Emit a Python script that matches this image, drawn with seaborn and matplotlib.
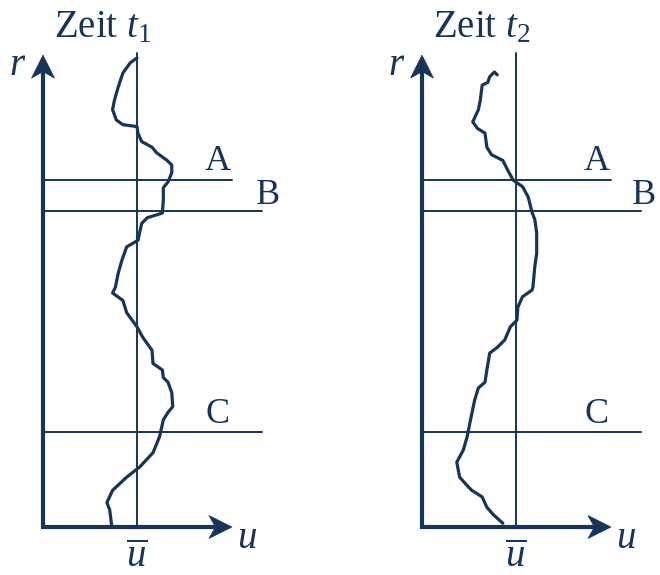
import matplotlib
matplotlib.use("Agg")
import matplotlib.pyplot as plt
import matplotlib.transforms as mtransforms
from matplotlib.patches import Polygon
import numpy as np
import pandas as pd
import seaborn as sns

# Instantaneous velocity profiles u(r) at two times, in units of the mean velocity
r_t1 = [4.99, 4.94, 4.83, 4.68, 4.54, 4.44, 4.33, 4.28, 4.26, 4.19, 4.10, 4.04, 3.98,
        3.90, 3.85, 3.77, 3.67, 3.61, 3.48, 3.34, 3.29, 3.23, 3.05, 2.98, 2.84, 2.70,
        2.55, 2.49, 2.41, 2.28, 2.13, 2.02, 1.88, 1.74, 1.67, 1.59, 1.54, 1.43, 1.28,
        1.22, 1.14, 0.96, 0.79, 0.64, 0.53, 0.39, 0.26, 0.18, 0.02]
u_t1 = [1.00, 0.93, 0.85, 0.80, 0.76, 0.74, 0.78, 0.85, 1.00, 1.01, 1.05, 1.16, 1.21,
        1.32, 1.37, 1.37, 1.33, 1.28, 1.28, 1.27, 1.11, 1.05, 1.01, 0.89, 0.84, 0.80,
        0.77, 0.74, 0.85, 0.89, 1.00, 1.06, 1.16, 1.17, 1.27, 1.28, 1.33, 1.37, 1.38,
        1.33, 1.28, 1.24, 1.17, 1.03, 0.89, 0.74, 0.68, 0.71, 0.73]

r_t2 = [4.81, 4.84, 4.79, 4.73, 4.70, 4.54, 4.44, 4.31, 4.24, 4.19, 4.04, 3.96, 3.90,
        3.80, 3.69, 3.62, 3.51, 3.35, 3.27, 3.13, 2.91, 2.77, 2.55, 2.52, 2.45, 2.34,
        2.20, 2.13, 1.99, 1.91, 1.85, 1.67, 1.54, 1.48, 1.35, 1.11, 0.96, 0.82, 0.69,
        0.53, 0.43, 0.39, 0.32, 0.21, 0.13, 0.04]
u_t2 = [0.80, 0.77, 0.72, 0.70, 0.64, 0.62, 0.60, 0.54, 0.59, 0.67, 0.69, 0.74, 0.86,
        0.91, 0.97, 1.07, 1.13, 1.17, 1.20, 1.22, 1.22, 1.20, 1.18, 1.17, 1.07, 1.02,
        1.01, 0.94, 0.88, 0.80, 0.72, 0.69, 0.67, 0.60, 0.56, 0.51, 0.48, 0.44, 0.37,
        0.40, 0.49, 0.53, 0.64, 0.69, 0.76, 0.86]

titles = ["Zeit $t_1$", "Zeit $t_2$"]
u_mean = 1.0
level_names = ["A", "B", "C"]
level_r = [3.69, 3.36, 1.01]
level_len = [2.01, 2.33, 2.33]
axis_u_max = 2.01
axis_r_max = 5.02

sns.set_theme(style="white")
plt.rcParams["font.family"] = ["Liberation Serif", "DejaVu Serif"]
plt.rcParams["mathtext.fontset"] = "custom"
plt.rcParams["mathtext.rm"] = "Liberation Serif"
plt.rcParams["mathtext.it"] = "Liberation Serif:italic"

navy = "#173459"
scale = 94.0  # pixels per unit

fig = plt.figure(figsize=(6.6, 5.75), dpi=100)
fig.patch.set_facecolor("white")

profiles = [(u_t1, r_t1), (u_t2, r_t2)]
origins_px = [43, 92]  # horizontal offset of r-axis inside each panel

# swept-back arrowhead outline (inches), pointing along +x
head = np.array([[0.0, 0.0], [-0.23, 0.115], [-0.165, 0.0], [-0.23, -0.115]])


def arrowhead(ax, x, y, angle):
    rot = mtransforms.Affine2D().rotate_deg(angle)
    trans = rot + fig.dpi_scale_trans + mtransforms.ScaledTranslation(x, y, ax.transData)
    ax.add_patch(Polygon(head, closed=True, transform=trans, facecolor=navy,
                         edgecolor=navy, lw=0.5, clip_on=False, zorder=5))


for i, ((u, r), title) in enumerate(zip(profiles, titles)):
    ax = fig.add_axes([0.5 * i, 0.0, 0.5, 1.0])
    x0 = origins_px[i]
    ax.set_xlim(-x0 / scale, (330 - x0) / scale)
    ax.set_ylim(-48 / scale, 527 / scale)
    ax.axis("off")

    df = pd.DataFrame({"u": u, "r": r})
    sns.lineplot(data=df, x="u", y="r", sort=False, estimator=None, ax=ax,
                 color=navy, lw=2.3, solid_joinstyle="round", solid_capstyle="round")

    # mean velocity line
    ax.plot([u_mean, u_mean], [0, 5.04], color=navy, lw=1.4, clip_on=False)

    # measurement levels A, B, C
    for name, rl, ln in zip(level_names, level_r, level_len):
        ax.plot([0, ln], [rl, rl], color=navy, lw=1.4, clip_on=False)

    # r and u axes meeting in a square corner
    ax.plot([0, 0, axis_u_max - 0.12], [axis_r_max - 0.12, 0, 0], color=navy, lw=3.0,
            solid_joinstyle="miter", solid_capstyle="butt", clip_on=False, zorder=4)
    arrowhead(ax, axis_u_max, 0, 0)
    arrowhead(ax, 0, axis_r_max, 90)

    fs = 28
    ax.text(0.12, 5.21, title, fontsize=28, color=navy, ha="left", va="baseline")
    ax.text(-0.36, 4.81, "$r$", fontsize=fs, color=navy, ha="left", va="baseline")
    ax.text(2.06, -0.22, "$u$", fontsize=fs, color=navy, ha="left", va="baseline")
    ax.text(u_mean, -0.43, r"$\overline{u}$", fontsize=fs, color=navy,
            ha="center", va="baseline")
    ax.text(1.72, 3.80, "A", fontsize=26, color=navy, ha="left", va="baseline")
    ax.text(2.27 if i == 0 else 2.23, 3.44, "B", fontsize=26, color=navy,
            ha="left", va="baseline")
    ax.text(1.73, 1.11, "C", fontsize=26, color=navy, ha="left", va="baseline")

fig.savefig("out.png", dpi=100, facecolor="white")
